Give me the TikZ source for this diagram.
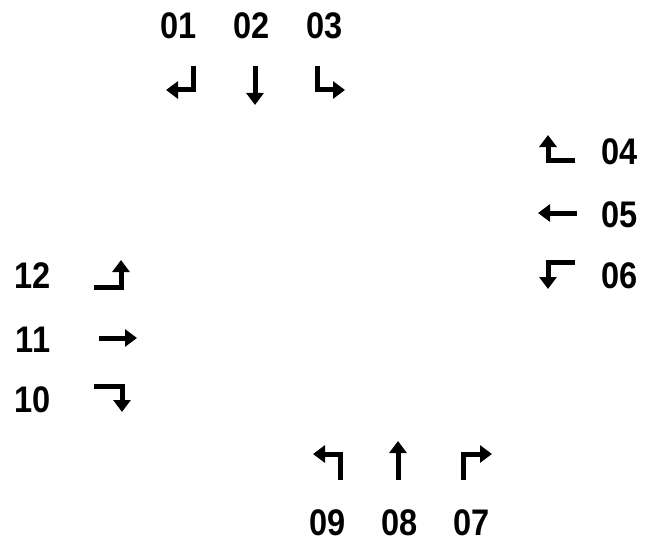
\documentclass[tikz,border=0pt]{standalone}
\usepackage{fontspec}
\setmainfont{Liberation Sans}
\usetikzlibrary{arrows.meta}
\tikzset{
  lbl/.style={font=\fontsize{37}{40}\selectfont\bfseries, inner sep=0pt, anchor=center, xscale=0.88},
  mv/.style={line width=5pt, line join=miter, -{Triangle[length=12pt,width=17pt]}}
}
\begin{document}
\begin{tikzpicture}[x=1pt,y=-1pt]
\useasboundingbox (0,0) rectangle (646,543);
\fill[white] (0,0) rectangle (646,543);
% labels
\node[lbl] (l01) at (179,26) {01};
\node[lbl] (l02) at (252,26) {02};
\node[lbl] (l03) at (325,26) {03};
\node[lbl] (l04) at (620,152) {04};
\node[lbl] (l05) at (620,215) {05};
\node[lbl] (l06) at (620,276) {06};
\node[lbl] (l07) at (472,523) {07};
\node[lbl] (l08) at (400,523) {08};
\node[lbl] (l09) at (328,523) {09};
\node[lbl] (l10) at (33,400) {10};
\node[lbl] (l11) at (33,340) {11};
\node[lbl] (l12) at (33,276) {12};
% movements
\draw[mv] (193,66) -- (193,90) -- (166,90);
\draw[mv] (255,66) -- (255,105);
\draw[mv] (317,66) -- (317,90) -- (345,90);
\draw[mv] (575,160) -- (548,160) -- (548,135);
\draw[mv] (577,213) -- (538,213);
\draw[mv] (575,262) -- (548,262) -- (548,289);
\draw[mv] (463,480) -- (463,454) -- (492,454);
\draw[mv] (398,480) -- (398,441);
\draw[mv] (340,480) -- (340,454) -- (313,454);
\draw[mv] (94,386) -- (122,386) -- (122,412);
\draw[mv] (99,338) -- (137,338);
\draw[mv] (94,287) -- (121,287) -- (121,260);
\end{tikzpicture}
\end{document}
